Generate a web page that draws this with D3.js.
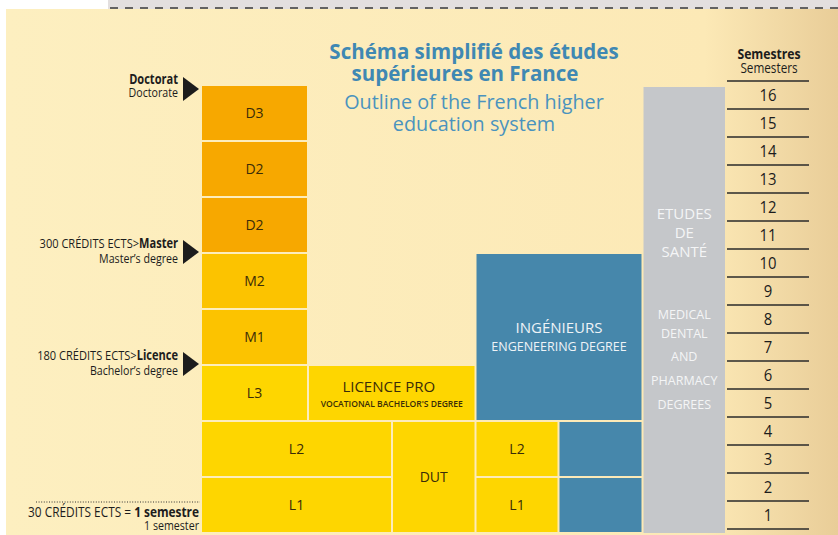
<!DOCTYPE html>
<html>
<head>
<meta charset="utf-8">
<script src="https://cdn.jsdelivr.net/npm/d3@7"></script>
<style>
  body { margin: 0; background: #fff; }
  svg { display: block; }
</style>
</head>
<body>
<svg id="chart" width="838" height="535"></svg>
<script>
// semesters, bottom to top
const semesters = d3.range(1, 17);

// blocks of the diagram: column span, semester span, kind
const blockLabels = ["D3", "D2", "D2", "M2", "M1", "L3", "L2", "L1",
  "LICENCE PRO", "DUT", "L2", "L1", "INGÉNIEURS", "", "", "ETUDES"];
const blockSubLabels = ["", "", "", "", "", "", "", "",
  "VOCATIONAL BACHELOR'S DEGREE", "", "", "", "ENGENEERING DEGREE", "", "", ""];
const blockCols = [[0, 1], [0, 1], [0, 1], [0, 1], [0, 1], [0, 1], [0, 2], [0, 2],
  [1, 3], [2, 3], [3, 4], [3, 4], [3, 5], [4, 5], [4, 5], [5, 6]];
const blockSems = [[14, 16], [12, 14], [10, 12], [8, 10], [6, 8], [4, 6], [2, 4], [0, 2],
  [4, 6], [0, 4], [2, 4], [0, 2], [4, 10], [2, 4], [0, 2], [0, 16]];
const blockKinds = ["doc", "doc", "doc", "master", "master", "lic", "lic", "lic",
  "lic", "lic", "lic", "lic", "eng", "eng", "eng", "sante"];

// degree markers on the left
const markerSems = [16, 10, 6];
const markerTop = [["", "Doctorat"], ["300 CRÉDITS ECTS>", "Master"], ["180 CRÉDITS ECTS>", "Licence"]];
const markerBottom = ["Doctorate", "Master’s degree", "Bachelor’s degree"];

const santeTitle = ["ETUDES", "DE", "SANTÉ"];
const santeLines = ["MEDICAL", "DENTAL", "AND", "PHARMACY", "DEGREES"];

const kindColor = {
  doc: "#f7a800", master: "#fcc300", lic: "#fed600",
  eng: "#4687ab", sante: "#c5c7ca"
};

const svg = d3.select("#chart");
const defs = svg.append("defs");
const grad = defs.append("linearGradient").attr("id", "bg").attr("x1", 0).attr("x2", 1);
grad.append("stop").attr("offset", "0%").attr("stop-color", "#fdefc0");
grad.append("stop").attr("offset", "84%").attr("stop-color", "#fce9b6");
grad.append("stop").attr("offset", "100%").attr("stop-color", "#e9cd98");

// paper background + top strip
svg.append("rect").attr("x", 108).attr("y", 0).attr("width", 730).attr("height", 10).attr("fill", "#e3dfdf");
svg.append("line").attr("x1", 110).attr("x2", 838).attr("y1", 8).attr("y2", 8)
  .attr("stroke", "#3a3a3a").attr("stroke-width", 1.6).attr("stroke-dasharray", "8,7");
svg.append("rect").attr("x", 6).attr("y", 9).attr("width", 832).attr("height", 526).attr("fill", "url(#bg)");

// scales
const x = d3.scaleLinear().domain([0, 1, 2, 3, 4, 5, 6])
  .range([201, 308, 392, 475.5, 558.5, 642.5, 726]);
const y = d3.scaleLinear().domain([0, 16]).range([533, 85]);
const ySem = d3.scaleLinear().domain([0, 16]).range([529, 81]);

const blocks = blockLabels.map((d, i) => ({
  label: d, sub: blockSubLabels[i], cols: blockCols[i], sems: blockSems[i], kind: blockKinds[i]
}));

const g = svg.append("g");
g.selectAll("rect.block").data(blocks).join("rect")
  .attr("class", "block")
  .attr("x", d => x(d.cols[0]) + 1)
  .attr("width", d => x(d.cols[1]) - x(d.cols[0]) - 2)
  .attr("y", d => y(d.sems[1]) + 1 + (d.kind === "sante" ? 1 : 0))
  .attr("height", d => y(d.sems[0]) - y(d.sems[1]) - 2)
  .attr("fill", d => kindColor[d.kind]);

// labels of the yellow/orange blocks
const plain = blocks.filter(d => d.kind !== "sante" && d.kind !== "eng" && d.sub === "");
g.selectAll("text.blab").data(plain).join("text")
  .attr("class", "blab")
  .attr("x", d => (x(d.cols[0]) + x(d.cols[1])) / 2)
  .attr("y", d => (y(d.sems[0]) + y(d.sems[1])) / 2 + 5)
  .attr("text-anchor", "middle")
  .attr("font-family", "'Open Sans', sans-serif")
  .attr("font-size", 14)
  .attr("fill", "#3a2c08")
  .text(d => d.label);

// licence pro and engineers
const lp = blocks[8];
const lpx = (x(lp.cols[0]) + x(lp.cols[1])) / 2;
g.append("text").attr("x", lpx - 3).attr("y", 392).attr("text-anchor", "middle")
  .attr("font-family", "'Open Sans', sans-serif").attr("font-size", 15).attr("fill", "#3a2c08")
  .text(lp.label);
g.append("text").attr("transform", `translate(${lpx},407) scale(0.9,1)`).attr("text-anchor", "middle")
  .attr("font-family", "'Open Sans', sans-serif").attr("font-size", 9.5).attr("font-weight", 600)
  .attr("fill", "#3a2c08").text(lp.sub);

const en = blocks[12];
const enx = (x(en.cols[0]) + x(en.cols[1])) / 2;
g.append("text").attr("x", enx).attr("y", 333).attr("text-anchor", "middle")
  .attr("font-family", "'Open Sans', sans-serif").attr("font-size", 15).attr("fill", "#eef3f7")
  .text(en.label);
g.append("text").attr("x", enx).attr("y", 351).attr("text-anchor", "middle")
  .attr("font-family", "'Open Sans', sans-serif").attr("font-size", 12.5)
  .attr("fill", "#eef3f7").text(en.sub);

// etudes de santé
const sx = (x(5) + x(6)) / 2;
g.selectAll("text.st").data(santeTitle).join("text")
  .attr("class", "st")
  .attr("x", sx).attr("y", (d, i) => 219 + i * 19)
  .attr("text-anchor", "middle")
  .attr("font-family", "'Open Sans', sans-serif").attr("font-size", 15)
  .attr("fill", "#f4f5f6").text(d => d);
const santeY = [319, 338, 361, 385, 409];
g.selectAll("text.sl").data(santeLines).join("text")
  .attr("class", "sl")
  .attr("x", sx).attr("y", (d, i) => santeY[i])
  .attr("text-anchor", "middle")
  .attr("font-family", "'Open Sans', sans-serif").attr("font-size", 12.5)
  .attr("fill", "#f4f5f6").text(d => d);

// title
const title = svg.append("g").attr("text-anchor", "middle").attr("font-family", "'Open Sans', sans-serif");
title.append("text").attr("x", 474).attr("y", 59).attr("font-size", 20.5).attr("font-weight", 700)
  .attr("fill", "#3f88b3").text("Schéma simplifié des études");
title.append("text").attr("x", 465).attr("y", 81).attr("font-size", 20.5).attr("font-weight", 700)
  .attr("fill", "#3f88b3").text("supérieures en France");
title.append("text").attr("x", 474).attr("y", 109).attr("font-size", 19.8).attr("fill", "#4a93be")
  .text("Outline of the French higher");
title.append("text").attr("x", 474).attr("y", 131).attr("font-size", 19.8).attr("fill", "#4a93be")
  .text("education system");

// left markers
const markers = markerSems.map((s, i) => ({ sem: s, top: markerTop[i], bottom: markerBottom[i] }));
const mk = svg.append("g");
mk.selectAll("path").data(markers).join("path")
  .attr("d", d => {
    const cy = y(d.sem) + (d.sem === 16 ? 4 : -1);
    return `M183,${cy - 12}L199,${cy}L183,${cy + 12}Z`;
  })
  .attr("fill", "#1c1c1c");

const mt = mk.selectAll("text.mt").data(markers).join("text")
  .attr("class", "mt")
  .attr("transform", d => `translate(178,${y(d.sem) - (d.sem === 16 ? 1 : 5)}) scale(0.82,1)`)
  .attr("text-anchor", "end")
  .attr("font-family", "'Open Sans', sans-serif").attr("font-size", 13.5)
  .attr("fill", "#1c1c1c");
mt.append("tspan").text(d => d.top[0]);
mt.append("tspan").attr("font-weight", 700).text(d => d.top[1]);
mk.selectAll("text.mb").data(markers).join("text")
  .attr("class", "mb")
  .attr("transform", d => `translate(178,${y(d.sem) + (d.sem === 16 ? 12 : 10)}) scale(0.82,1)`)
  .attr("text-anchor", "end")
  .attr("font-family", "'Open Sans', sans-serif").attr("font-size", 13)
  .attr("fill", "#1c1c1c")
  .text(d => d.bottom);

// 30 ECTS note
mk.append("line").attr("x1", 36).attr("x2", 200).attr("y1", 502).attr("y2", 502)
  .attr("stroke", "#333").attr("stroke-width", 1).attr("stroke-dasharray", "1,1.6");
const note = mk.append("text").attr("transform", "translate(199,517) scale(0.86,1)")
  .attr("text-anchor", "end").attr("font-family", "'Open Sans', sans-serif")
  .attr("font-size", 13.8).attr("fill", "#1c1c1c");
note.append("tspan").text("30 CRÉDITS ECTS = ");
note.append("tspan").attr("font-weight", 700).text("1 semestre");
mk.append("text").attr("transform", "translate(199,530) scale(0.82,1)")
  .attr("text-anchor", "end").attr("font-family", "'Open Sans', sans-serif")
  .attr("font-size", 13).attr("fill", "#1c1c1c").text("1 semester");

// semester column
const sc = svg.append("g");
sc.append("text").attr("transform", "translate(769,59) scale(0.84,1)").attr("text-anchor", "middle")
  .attr("font-family", "'Open Sans', sans-serif").attr("font-size", 14.5).attr("font-weight", 700)
  .attr("fill", "#1c1c1c").text("Semestres");
sc.append("text").attr("transform", "translate(769,73) scale(0.84,1)").attr("text-anchor", "middle")
  .attr("font-family", "'Open Sans', sans-serif").attr("font-size", 14)
  .attr("fill", "#1c1c1c").text("Semesters");
sc.selectAll("line").data(d3.range(0, 17)).join("line")
  .attr("x1", 727).attr("x2", 809)
  .attr("y1", d => ySem(d)).attr("y2", d => ySem(d))
  .attr("stroke", "#2a2a2a").attr("stroke-width", 1.3);
sc.selectAll("text.num").data(semesters).join("text")
  .attr("class", "num")
  .attr("transform", d => `translate(768,${(ySem(d) + ySem(d - 1)) / 2 + 6}) scale(0.9,1)`)
  .attr("text-anchor", "middle")
  .attr("font-family", "'Open Sans', sans-serif").attr("font-size", 16.5)
  .attr("fill", "#1c1c1c").text(d => d);
</script>
</body>
</html>
